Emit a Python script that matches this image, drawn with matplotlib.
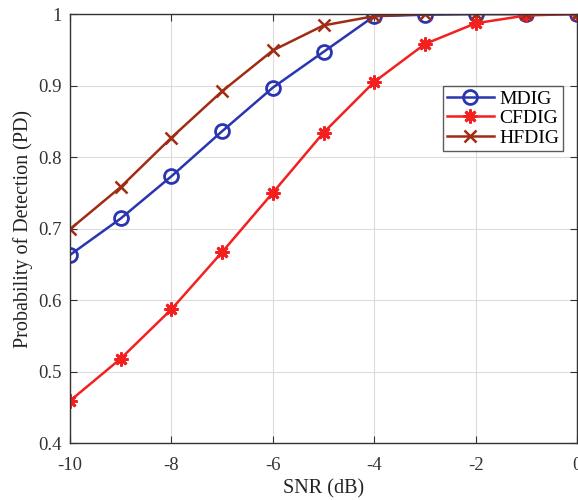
import matplotlib
matplotlib.use("Agg")
import matplotlib.pyplot as plt

plt.rcParams['font.family'] = ['Liberation Serif', 'DejaVu Serif']
plt.rcParams['axes.unicode_minus'] = False

snr = [-10, -9, -8, -7, -6, -5, -4, -3, -2, -1, 0]
mdig = [0.663, 0.714, 0.773, 0.836, 0.897, 0.947, 0.997, 0.999, 1.0, 1.0, 1.0]
cfdig = [0.459, 0.518, 0.587, 0.667, 0.750, 0.834, 0.905, 0.958, 0.987, 0.998, 1.0]
hfdig = [0.699, 0.758, 0.827, 0.892, 0.949, 0.984, 0.997, 1.0, 1.0, 1.0, 1.0]
xticks = [-10, -8, -6, -4, -2, 0]
yticks = [0.4, 0.5, 0.6, 0.7, 0.8, 0.9, 1.0]
ytick_labels = ['0.4', '0.5', '0.6', '0.7', '0.8', '0.9', '1']

fig = plt.figure(figsize=(5.78, 5.0), dpi=100)
ax = fig.add_axes([70/578, 1 - 443/500, 507/578, 429/500])

ax.plot(snr, mdig, color='#2a35b0', lw=1.8, marker='o', ms=10, mfc='none', mew=2, label='MDIG')
ax.plot(snr, cfdig, color='#f42020', lw=1.8, marker=(8, 2, 0), ms=10, mew=2, label='CFDIG')
ax.plot(snr, hfdig, color='#a02c14', lw=1.8, marker='x', ms=9, mew=1.8, label='HFDIG')

ax.set_xlim(-10, 0)
ax.set_ylim(0.4, 1.0)
ax.set_xticks(xticks)
ax.set_yticks(yticks)
ax.set_yticklabels(ytick_labels)
ax.grid(True, color='#dcdcdc', lw=0.8)
ax.tick_params(direction='in', top=True, right=True, labelsize=13.5, colors='#333333', length=5)
ax.tick_params(axis='x', pad=10)
ax.tick_params(axis='y', pad=6)
for s in ax.spines.values():
    s.set_color('#333333')
    s.set_linewidth(1)
ax.set_xlabel('SNR (dB)', fontsize=14.5, color='#222222', labelpad=4)
ax.set_ylabel('Probability of Detection (PD)', fontsize=14.5, color='#222222', labelpad=4)

leg = ax.legend(loc='upper left', bbox_to_anchor=((443-70)/507, (443-86)/429), fontsize=14,
                frameon=True, fancybox=False, edgecolor='#333333', handlelength=2.4,
                borderpad=0.2, labelspacing=0.1, handletextpad=0.3, borderaxespad=0)
leg.get_frame().set_linewidth(1)

fig.savefig('out.png', dpi=100)
